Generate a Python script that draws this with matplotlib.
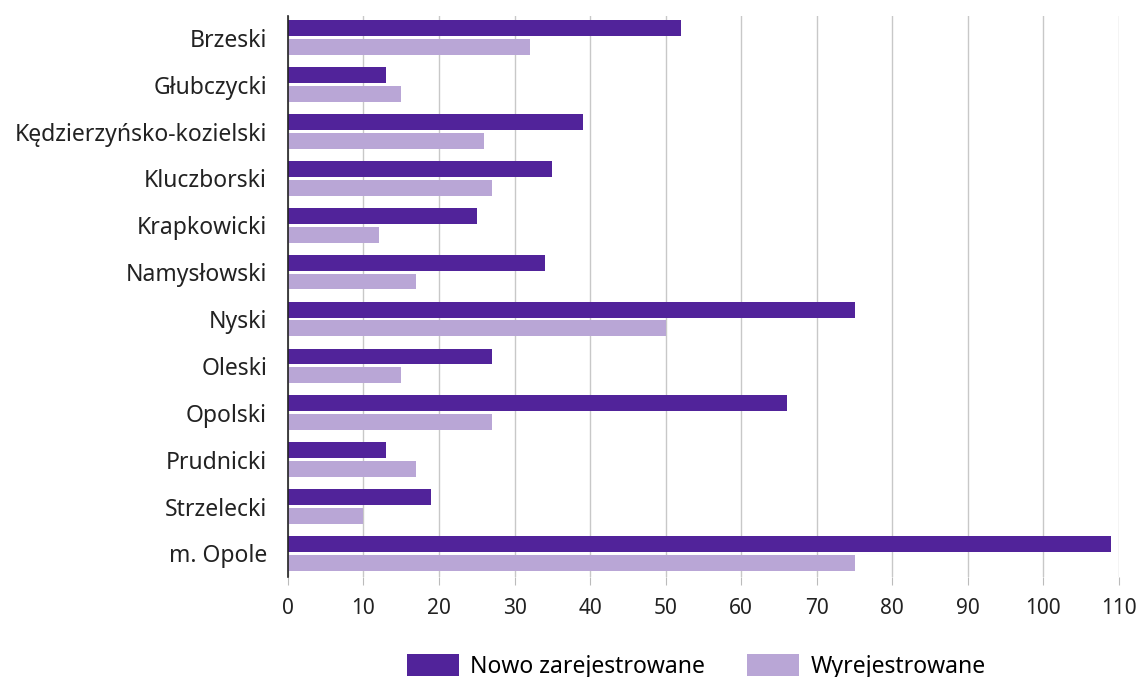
import matplotlib
matplotlib.use("Agg")
import matplotlib.pyplot as plt
import numpy as np

categories = ["Brzeski", "Głubczycki", "Kędzierzyńsko-kozielski", "Kluczborski",
              "Krapkowicki", "Namysłowski", "Nyski", "Oleski", "Opolski",
              "Prudnicki", "Strzelecki", "m. Opole"]
nowo = [52, 13, 39, 35, 25, 34, 75, 27, 66, 13, 19, 109]
wyrej = [32, 15, 26, 27, 12, 17, 50, 15, 27, 17, 10, 75]
series_names = ["Nowo zarejestrowane", "Wyrejestrowane"]
xticks = list(range(0, 111, 10))

dark = "#51239a"
light = "#b9a6d6"

plt.rcParams['font.family'] = ['Noto Sans', 'DejaVu Sans']

fig = plt.figure(figsize=(11.38, 6.77), dpi=100)
ax = fig.add_axes([0.253, 0.148, 0.7303, 0.828])

y = np.arange(len(categories))
h = 0.34
off = 0.2
ax.barh(y - off, nowo, height=h, color=dark, label=series_names[0], zorder=3)
ax.barh(y + off, wyrej, height=h, color=light, label=series_names[1], zorder=3)

ax.set_xlim(0, 110)
ax.set_ylim(11.5, -0.46)
ax.set_yticks(y)
ax.set_yticklabels(categories, fontsize=16.5, color="#222222")
ax.set_xticks(xticks)
ax.set_xticklabels([str(t) for t in xticks], fontsize=15, color="#222222",
                   family=['Liberation Sans Narrow', 'Noto Sans'])
ax.tick_params(axis='y', length=0, pad=15)
ax.tick_params(axis='x', length=6, color="#bbbbbb", pad=9)
ax.grid(axis='x', color="#c8c8c8", linewidth=1, zorder=0)
for s in ['top', 'right', 'bottom']:
    ax.spines[s].set_visible(False)
ax.spines['left'].set_color("#222222")
ax.spines['left'].set_linewidth(1.2)
ax.spines['left'].set_zorder(4)

leg = fig.legend(loc='lower center', bbox_to_anchor=(0.612, -0.033), ncol=2,
                 frameon=False, fontsize=16.5, handlelength=2.27, handleheight=1.09,
                 columnspacing=1.83, handletextpad=0.5)

fig.savefig("out.png", dpi=100)
